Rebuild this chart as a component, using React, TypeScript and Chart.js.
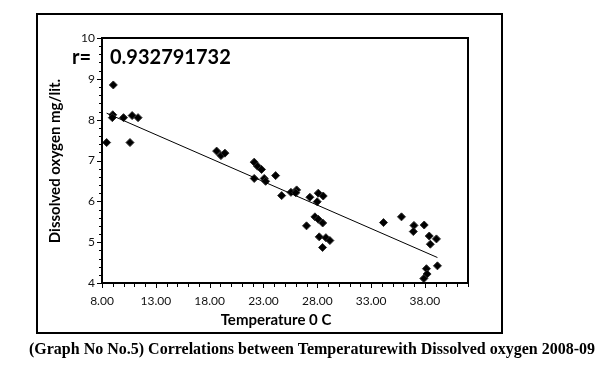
import React, { useEffect, useRef } from "react";
import { Chart, registerables } from "chart.js";

Chart.register(...registerables);

// Temperature (°C) of each sample
const temperature = [
  8.43, 9.05, 9.0, 8.96, 10.0, 10.8, 11.35, 10.6,
  18.65, 19.05, 19.42,
  22.14, 22.45, 22.82, 22.14, 23.07, 23.2, 24.13,
  24.69, 25.55, 26.08, 26.0, 27.31, 28.09, 28.55, 27.99,
  27.0, 27.78, 28.09, 28.5, 28.18, 28.8, 29.17, 28.49,
  34.15, 35.82, 36.98, 36.92, 37.93, 38.4, 39.07, 38.5,
  39.16, 38.14, 38.2, 37.9,
];
// Dissolved oxygen (mg/lit.) of each sample
const oxygen = [
  7.44, 8.85, 8.12, 8.05, 8.05, 8.1, 8.05, 7.44,
  7.23, 7.12, 7.18,
  6.96, 6.86, 6.78, 6.56, 6.56, 6.49, 6.63,
  6.14, 6.22, 6.28, 6.21, 6.1, 6.2, 6.13, 5.99,
  5.4, 5.62, 5.56, 5.47, 5.13, 5.11, 5.04, 4.87,
  5.48, 5.62, 5.41, 5.26, 5.42, 5.15, 5.08, 4.95,
  4.42, 4.35, 4.22, 4.11,
];

const xMin = 8;
const xMax = 42;
const xMajor = 5;
const yMin = 4;
const yMax = 10;
const rText = "0.932791732";
const yTitle = "Dissolved oxygen mg/lit.";
const xTitle = "Temperature 0 C";
const caption =
  "(Graph No No.5) Correlations between Temperaturewith Dissolved oxygen 2008-09";

function trend() {
  const n = temperature.length;
  const mx = temperature.reduce((a, b) => a + b, 0) / n;
  const my = oxygen.reduce((a, b) => a + b, 0) / n;
  let sxy = 0;
  let sxx = 0;
  for (let i = 0; i < n; i++) {
    sxy += (temperature[i] - mx) * (oxygen[i] - my);
    sxx += (temperature[i] - mx) ** 2;
  }
  const b = sxy / sxx;
  const a = my - b * mx;
  const lo = Math.min(...temperature);
  const hi = Math.max(...temperature);
  return [
    { x: lo, y: a + b * lo },
    { x: hi, y: a + b * hi },
  ];
}

const isInt = (v: number) => Math.abs(v - Math.round(v)) < 1e-6;

const framePlugin = {
  id: "frameTicks",
  afterDraw(chart: any) {
    const { ctx, chartArea: a } = chart;
    const x = chart.scales.x;
    const y = chart.scales.y;
    ctx.save();
    ctx.strokeStyle = "#000";
    ctx.lineWidth = 1;
    x.ticks.forEach((t: any) => {
      const px = Math.round(x.getPixelForValue(t.value)) + 0.5;
      const major = isInt((t.value - xMin) / xMajor);
      ctx.beginPath();
      ctx.moveTo(px, a.bottom);
      ctx.lineTo(px, a.bottom + (major ? 5 : 4));
      ctx.stroke();
    });
    y.ticks.forEach((t: any) => {
      const py = Math.round(y.getPixelForValue(t.value)) + 0.5;
      const major = isInt(t.value);
      ctx.beginPath();
      ctx.moveTo(a.left, py);
      ctx.lineTo(a.left - (major ? 5 : 3), py);
      ctx.stroke();
    });
    ctx.lineWidth = 2;
    ctx.strokeRect(a.left, a.top, a.right - a.left, a.bottom - a.top);
    ctx.restore();
  },
};

export default function App() {
  const ref = useRef<HTMLCanvasElement>(null);

  useEffect(() => {
    if (!ref.current) return;
    Chart.defaults.font.family = "Lato";
    const chart = new Chart(ref.current, {
      type: "scatter",
      data: {
        datasets: [
          {
            type: "line",
            data: trend(),
            borderColor: "#000",
            borderWidth: 1,
            pointRadius: 0,
            fill: false,
          } as any,
          {
            data: temperature.map((t, i) => ({ x: t, y: oxygen[i] })),
            pointStyle: "rectRot",
            pointRadius: 4,
            backgroundColor: "#000",
            borderColor: "#2a2a2a",
            borderWidth: 1,
          },
        ],
      },
      options: {
        responsive: false,
        animation: false,
        devicePixelRatio: 1,
        layout: { padding: { left: 62, right: 140, top: 38, bottom: 67 } },
        plugins: {
          legend: { display: false },
          tooltip: { enabled: false },
        },
        scales: {
          x: {
            type: "linear",
            min: xMin,
            max: xMax,
            afterFit: (s: any) => {
              s.height = 30;
            },
            grid: { display: false, drawTicks: true, tickLength: 5 },
            border: { display: false },
            ticks: {
              stepSize: 1,
              autoSkip: false,
              maxRotation: 0,
              padding: 6,
              color: "#111",
              font: { size: 12, family: "Lato" },
              callback: (v: any) =>
                isInt((Number(v) - xMin) / xMajor) ? Number(v).toFixed(2) : "",
            },
          },
          y: {
            type: "linear",
            min: yMin,
            max: yMax,
            afterFit: (s: any) => {
              s.width = 40;
            },
            grid: { display: false, drawTicks: true, tickLength: 5 },
            border: { display: false },
            ticks: {
              stepSize: 0.2,
              autoSkip: false,
              padding: 2,
              color: "#111",
              font: { size: 12, family: "Lato" },
              callback: (v: any) =>
                isInt(Number(v)) ? String(Math.round(Number(v))) : "",
            },
          },
        },
      },
      plugins: [framePlugin],
    });
    return () => chart.destroy();
  }, []);

  const bold = { fontFamily: "Lato", fontWeight: 700, color: "#000", whiteSpace: "nowrap" as const };

  return (
    <div style={{ position: "fixed", left: 0, top: 0, width: 608, height: 380, background: "#fff" }}>
      <canvas ref={ref} width={608} height={380} style={{ position: "absolute", left: 0, top: 0, width: 608, height: 380 }} />
      <div
        style={{
          position: "absolute",
          left: 36,
          top: 13,
          width: 467,
          height: 321,
          border: "2px solid #000",
          boxSizing: "border-box",
          pointerEvents: "none",
        }}
      />
      <div style={{ ...bold, position: "absolute", left: 72, top: 44, fontSize: 20, lineHeight: "24px" }}>r=</div>
      <div style={{ ...bold, position: "absolute", left: 110, top: 44, fontSize: 20, lineHeight: "24px" }}>{rText}</div>
      <div
        style={{
          ...bold,
          position: "absolute",
          left: 54,
          top: 161,
          fontSize: 15,
          transform: "translate(-50%, -50%) rotate(-90deg)",
        }}
      >
        {yTitle}
      </div>
      <div
        style={{
          ...bold,
          position: "absolute",
          left: 276,
          top: 319,
          fontSize: 15,
          transform: "translate(-50%, -50%)",
        }}
      >
        {xTitle}
      </div>
      <div
        style={{
          position: "absolute",
          left: 312,
          top: 349,
          transform: "translate(-50%, -50%)",
          fontFamily: "'Liberation Serif', 'Times New Roman', serif",
          fontWeight: 700,
          fontSize: 16,
          whiteSpace: "nowrap",
          color: "#000",
        }}
      >
        {caption}
      </div>
    </div>
  );
}
